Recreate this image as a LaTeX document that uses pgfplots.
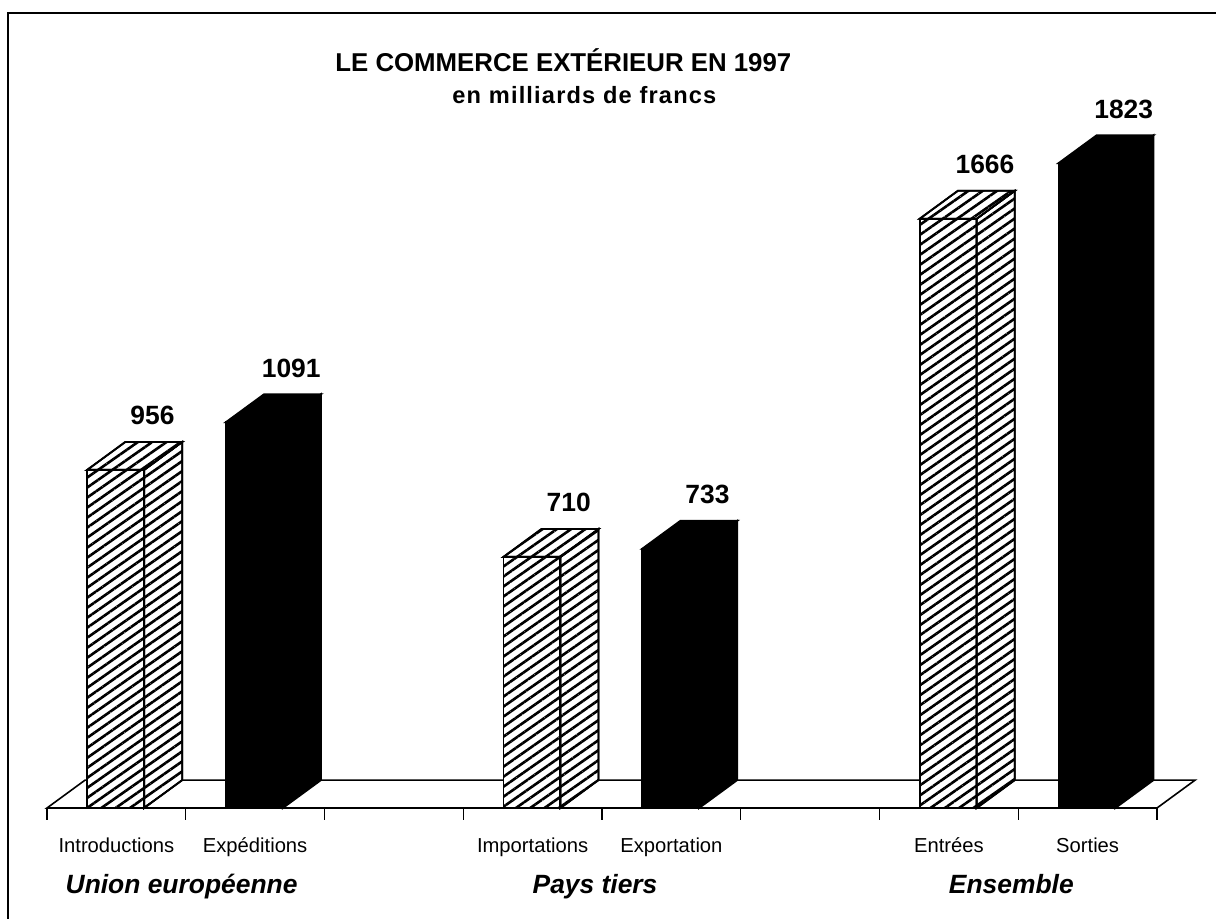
\documentclass[border=0pt]{standalone}
\usepackage{fontspec}
\setmainfont{Liberation Sans}
\newfontfamily\subfont[LetterSpace=5]{Liberation Sans}
\usepackage{pgfplots}
\pgfplotsset{compat=1.18}
\usetikzlibrary{patterns.meta}
\tikzset{
  hatch/.style={draw=black, line width=0.9pt, preaction={fill=white},
    pattern={Lines[angle=35,distance=4.1pt,line width=1.3pt]}, pattern color=black},
  solidbar/.style={draw=black, line width=0.9pt, fill=black},
}
\begin{document}
\begin{tikzpicture}
\useasboundingbox (0,0) rectangle (608pt,459.5pt);
\begin{axis}[
  at={(0,0)}, anchor=south west,
  scale only axis, width=608pt, height=459.5pt,
  xmin=-0.3387, xmax=8.4252, ymin=-313.8, ymax=2284.4,
  clip=false,
  axis x line=middle, axis y line=none,
  x axis line style={draw=none},
  xtick={0,1,2,3,4,5,6,7,8}, xticklabels={},
  xtick align=outside, major tick length=6pt,
  tick style={line width=0.7pt, black},
]
% frame
\draw[line width=1pt] (axis cs:-0.2811,-313.8) -- (axis cs:-0.2811,2247.7) -- (axis cs:8.4252,2247.7);
% title
\node[anchor=base west, font=\bfseries\fontsize{12.9}{15}\selectfont, inner sep=0pt] at (axis cs:2.0757,2080.9) {LE COMMERCE EXTÉRIEUR EN 1997};
\node[anchor=base west, font=\subfont\bfseries\fontsize{11.8}{13}\selectfont, inner sep=0pt] at (axis cs:2.919,1990.4) {en milliards de francs};
% floor
\addplot[draw=black, line width=0.8pt, fill=white] coordinates {(0,0) (8,0) (8.275,79) (0.275,79)} -- cycle;
% Introductions 956
\addplot[hatch] coordinates {(0.29,0) (0.70,0) (0.70,956) (0.29,956)} -- cycle;
\addplot[hatch] coordinates {(0.70,0) (0.975,79) (0.975,1035) (0.70,956)} -- cycle;
\addplot[hatch] coordinates {(0.29,956) (0.70,956) (0.975,1035) (0.565,1035)} -- cycle;
% Expeditions 1091
\addplot[solidbar] coordinates {(1.29,0) (1.70,0) (1.70,1091) (1.29,1091)} -- cycle;
\addplot[solidbar] coordinates {(1.70,0) (1.975,79) (1.975,1170) (1.70,1091)} -- cycle;
\addplot[solidbar] coordinates {(1.29,1091) (1.70,1091) (1.975,1170) (1.565,1170)} -- cycle;
% Importations 710
\addplot[hatch] coordinates {(3.29,0) (3.70,0) (3.70,710) (3.29,710)} -- cycle;
\addplot[hatch] coordinates {(3.70,0) (3.975,79) (3.975,789) (3.70,710)} -- cycle;
\addplot[hatch] coordinates {(3.29,710) (3.70,710) (3.975,789) (3.565,789)} -- cycle;
% Exportation 733
\addplot[solidbar] coordinates {(4.29,0) (4.70,0) (4.70,733) (4.29,733)} -- cycle;
\addplot[solidbar] coordinates {(4.70,0) (4.975,79) (4.975,812) (4.70,733)} -- cycle;
\addplot[solidbar] coordinates {(4.29,733) (4.70,733) (4.975,812) (4.565,812)} -- cycle;
% Entrees 1666
\addplot[hatch] coordinates {(6.29,0) (6.70,0) (6.70,1666) (6.29,1666)} -- cycle;
\addplot[hatch] coordinates {(6.70,0) (6.975,79) (6.975,1745) (6.70,1666)} -- cycle;
\addplot[hatch] coordinates {(6.29,1666) (6.70,1666) (6.975,1745) (6.565,1745)} -- cycle;
% Sorties 1823
\addplot[solidbar] coordinates {(7.29,0) (7.70,0) (7.70,1823) (7.29,1823)} -- cycle;
\addplot[solidbar] coordinates {(7.70,0) (7.975,79) (7.975,1902) (7.70,1823)} -- cycle;
\addplot[solidbar] coordinates {(7.29,1823) (7.70,1823) (7.975,1902) (7.565,1902)} -- cycle;
% value labels
\begin{scope}[every node/.style={anchor=base, font=\bfseries\fontsize{13.2}{15}\selectfont, inner sep=0pt}]
\node at (axis cs:0.76,1083) {956};
\node at (axis cs:1.76,1218) {1091};
\node at (axis cs:3.76,837) {710};
\node at (axis cs:4.76,860) {733};
\node at (axis cs:6.76,1793) {1666};
\node at (axis cs:7.76,1950) {1823};
\end{scope}
% category labels
\begin{scope}[every node/.style={anchor=base, font=\fontsize{10.1}{12}\selectfont, inner sep=0pt}]
\node at (axis cs:0.5,-127) {Introductions};
\node at (axis cs:1.5,-127) {Expéditions};
\node at (axis cs:3.5,-127) {Importations};
\node at (axis cs:4.5,-127) {Exportation};
\node at (axis cs:6.5,-127) {Entrées};
\node at (axis cs:7.5,-127) {Sorties};
\end{scope}
\begin{scope}[every node/.style={anchor=base, font=\bfseries\itshape\fontsize{13.2}{15}\selectfont, inner sep=0pt}]
\node at (axis cs:0.97,-243) {Union européenne};
\node at (axis cs:3.95,-243) {Pays tiers};
\node at (axis cs:6.95,-243) {Ensemble};
\end{scope}
\end{axis}
\end{tikzpicture}
\end{document}
